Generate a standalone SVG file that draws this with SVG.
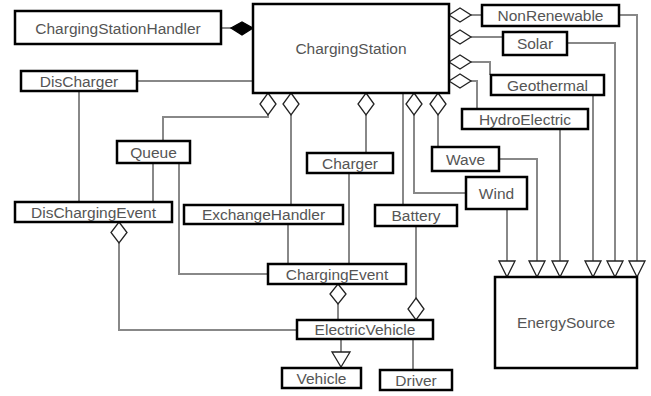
<svg xmlns="http://www.w3.org/2000/svg" width="651" height="396" viewBox="0 0 651 396">
<style>
.box{fill:#fff;stroke:#000;stroke-width:2.5}
.t{font-family:"Liberation Sans",Arial,sans-serif;font-size:15.5px;fill:#555;text-anchor:middle;dominant-baseline:central}
.ln{fill:none;stroke:#888;stroke-width:2}
.dia{fill:#fff;stroke:#222;stroke-width:1.3}
.fdia{fill:#000;stroke:#000;stroke-width:1.3}
.tri{fill:#fff;stroke:#222;stroke-width:1.3}
</style>
<rect width="651" height="396" fill="#fff"/>
<g id="connectors">
<path class="ln" d="M221 28H231"/>
<path class="ln" d="M137 81H253"/>
<path class="ln" d="M79 91V202"/>
<path class="ln" d="M268 115V117H163V141"/>
<path class="ln" d="M153 163V202"/>
<path class="ln" d="M179 163V274H268"/>
<path class="ln" d="M119 243V330H297"/>
<path class="ln" d="M291 115V205"/>
<path class="ln" d="M288 224V264"/>
<path class="ln" d="M366 115V153"/>
<path class="ln" d="M349 173V264"/>
<path class="ln" d="M403 93V205"/>
<path class="ln" d="M414 115V193H466"/>
<path class="ln" d="M438 115V147"/>
<path class="ln" d="M338 304V320"/>
<path class="ln" d="M416 226V298"/>
<path class="ln" d="M341 339V352"/>
<path class="ln" d="M413 339V370"/>
<path class="ln" d="M471 15H482"/>
<path class="ln" d="M471 37H503"/>
<path class="ln" d="M471 62H490V75"/>
<path class="ln" d="M471 81H477V109"/>
<path class="ln" d="M619 15H637V261"/>
<path class="ln" d="M567 43H615V261"/>
<path class="ln" d="M593 95V261"/>
<path class="ln" d="M560 129V261"/>
<path class="ln" d="M499 159H537V261"/>
<path class="ln" d="M507 209V261"/>
<path class="fdia" d="M253 28L242 22L231 28L242 35Z"/>
<path class="dia" d="M268 93L276 104L268 115L260 104Z"/>
<path class="dia" d="M291 93L299 104L291 115L283 104Z"/>
<path class="dia" d="M366 93L374 104L366 115L358 104Z"/>
<path class="dia" d="M414 93L422 104L414 115L406 104Z"/>
<path class="dia" d="M438 93L446 104L438 115L430 104Z"/>
<path class="dia" d="M449 15L460 8L471 15L460 22Z"/>
<path class="dia" d="M449 37L460 30L471 37L460 44Z"/>
<path class="dia" d="M449 62L460 55L471 62L460 69Z"/>
<path class="dia" d="M449 81L460 74L471 81L460 88Z"/>
<path class="dia" d="M119 222L127 232.5L119 243L111 232.5Z"/>
<path class="dia" d="M338 284L346 294L338 304L330 294Z"/>
<path class="dia" d="M416 298L424 309L416 320L408 309Z"/>
<path class="tri" d="M332 352H350L341 367Z"/>
<path class="tri" d="M499 261H515L507 277Z"/>
<path class="tri" d="M529 261H545L537 277Z"/>
<path class="tri" d="M552 261H568L560 277Z"/>
<path class="tri" d="M585 261H601L593 277Z"/>
<path class="tri" d="M607 261H623L615 277Z"/>
<path class="tri" d="M629 261H645L637 277Z"/>
</g>
<g id="ChargingStation"><rect class="box" x="253" y="4" width="196" height="89"/><text class="t" x="351" y="48">ChargingStation</text></g>
<g id="ChargingStationHandler"><rect class="box" x="15" y="11" width="206" height="33"/><text class="t" x="118" y="28">ChargingStationHandler</text></g>
<g id="DisCharger"><rect class="box" x="21" y="71" width="116" height="20"/><text class="t" x="79" y="81">DisCharger</text></g>
<g id="Queue"><rect class="box" x="117" y="141" width="73" height="22"/><text class="t" x="153.5" y="152">Queue</text></g>
<g id="DisChargingEvent"><rect class="box" x="15" y="202" width="157" height="20"/><text class="t" x="93.5" y="212">DisChargingEvent</text></g>
<g id="ExchangeHandler"><rect class="box" x="184" y="205" width="159" height="19"/><text class="t" x="263.5" y="214.5">ExchangeHandler</text></g>
<g id="Charger"><rect class="box" x="307" y="153" width="86" height="20"/><text class="t" x="350" y="163">Charger</text></g>
<g id="Battery"><rect class="box" x="375" y="205" width="82" height="21"/><text class="t" x="416" y="215.5">Battery</text></g>
<g id="ChargingEvent"><rect class="box" x="268" y="264" width="138" height="20"/><text class="t" x="337" y="274">ChargingEvent</text></g>
<g id="ElectricVehicle"><rect class="box" x="297" y="320" width="136" height="19"/><text class="t" x="365" y="329.5">ElectricVehicle</text></g>
<g id="Vehicle"><rect class="box" x="282" y="368" width="79" height="20"/><text class="t" x="321.5" y="378">Vehicle</text></g>
<g id="Driver"><rect class="box" x="380" y="370" width="72" height="20"/><text class="t" x="416" y="380">Driver</text></g>
<g id="NonRenewable"><rect class="box" x="482" y="5" width="137" height="21"/><text class="t" x="550.5" y="15.5">NonRenewable</text></g>
<g id="Solar"><rect class="box" x="503" y="32" width="64" height="23"/><text class="t" x="535" y="43.5">Solar</text></g>
<g id="Geothermal"><rect class="box" x="491" y="75" width="113" height="20"/><text class="t" x="547.5" y="85">Geothermal</text></g>
<g id="HydroElectric"><rect class="box" x="462" y="109" width="126" height="20"/><text class="t" x="525" y="119">HydroElectric</text></g>
<g id="Wave"><rect class="box" x="432" y="147" width="67" height="24"/><text class="t" x="465.5" y="159">Wave</text></g>
<g id="Wind"><rect class="box" x="466" y="177" width="61" height="32"/><text class="t" x="496.5" y="193">Wind</text></g>
<g id="EnergySource"><rect class="box" x="495" y="277" width="142" height="91"/><text class="t" x="566" y="322.5">EnergySource</text></g>
</svg>
